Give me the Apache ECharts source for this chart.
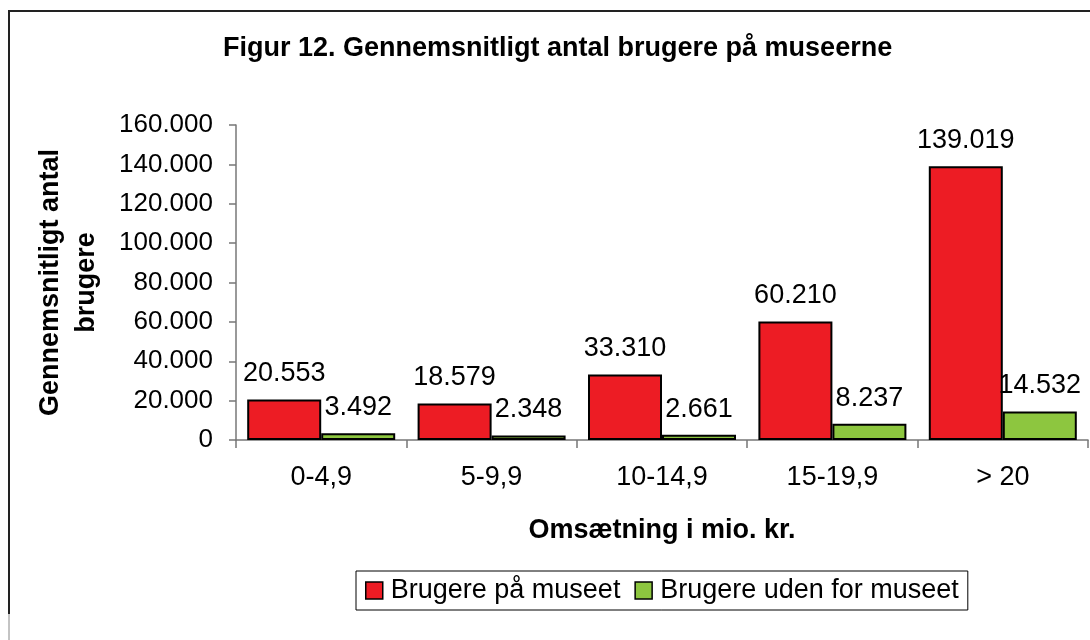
<!DOCTYPE html>
<html>
<head>
<meta charset="utf-8">
<script src="https://cdn.jsdelivr.net/npm/echarts@6/dist/echarts.min.js"></script>
<style>
  html, body { margin: 0; padding: 0; background: #fff; }
  #chart { width: 1090px; height: 640px; }
</style>
</head>
<body>
<div id="chart"></div>
<script>
// kategorier og værdier
const categories = ['0-4,9', '5-9,9', '10-14,9', '15-19,9', '> 20']
const brugerePaa = [20553, 18579, 33310, 60210, 139019]
const brugereUden = [3492, 2348, 2661, 8237, 14532]
const seriesNames = ['Brugere på museet', 'Brugere uden for museet']

const FONT = '"Liberation Sans", Arial, sans-serif'

// tusindtals-punktum som i dansk format
const fmt = (v) => String(v).replace(/\B(?=(\d{3})+(?!\d))/g, '.')

const myChart = echarts.init(document.getElementById('chart'))

const barLabel = {
  show: true,
  position: 'top',
  distance: 12,
  color: '#000',
  fontSize: 27,
  fontFamily: FONT,
  formatter: (p) => fmt(p.value),
}

const option = {
  backgroundColor: '#fff',
  animation: false,
  textStyle: { fontFamily: FONT },
  title: {
    text: 'Figur 12. Gennemsnitligt antal brugere på museerne',
    left: 223,
    top: 35,
    padding: 0,
    textStyle: { fontSize: 27, fontWeight: 'bold', color: '#000', fontFamily: FONT },
  },
  graphic: [
    {
      type: 'polyline',
      shape: { points: [[9, 614], [9, 11], [1090, 11]] },
      style: { stroke: '#222', lineWidth: 2, fill: null },
    },
    {
      type: 'line',
      shape: { x1: 9, y1: 614, x2: 9, y2: 640 },
      style: { stroke: '#888', lineWidth: 1 },
    },
  ],
  legend: {
    data: seriesNames,
    left: 356,
    top: 571,
    padding: [6, 9],
    itemGap: 14,
    itemWidth: 17,
    itemHeight: 17,
    icon: 'rect',
    borderColor: '#000',
    borderWidth: 1,
    itemStyle: { borderColor: '#000', borderWidth: 1.5 },
    textStyle: { fontSize: 27, color: '#000', fontFamily: FONT, padding: [0, 0, 0, 3] },
  },
  grid: {
    left: 236,
    right: 2,
    top: 125,
    bottom: 200,
    containLabel: false,
  },
  xAxis: {
    type: 'category',
    data: categories,
    name: 'Omsætning i mio. kr.',
    nameLocation: 'middle',
    nameGap: 77,
    nameTextStyle: { fontSize: 27, fontWeight: 'bold', color: '#000', fontFamily: FONT },
    axisLine: { lineStyle: { color: '#777', width: 1.5 } },
    axisTick: { show: true, length: 8, alignWithLabel: false, lineStyle: { color: '#777', width: 1.5 } },
    axisLabel: { margin: 24, fontSize: 27, color: '#000', fontFamily: FONT },
  },
  yAxis: {
    type: 'value',
    min: 0,
    max: 160000,
    interval: 20000,
    name: 'Gennemsnitligt antal\nbrugere',
    nameLocation: 'middle',
    nameRotate: 90,
    nameGap: 131,
    nameTextStyle: {
      fontSize: 27, fontWeight: 'bold', color: '#000', fontFamily: FONT,
      align: 'center', lineHeight: 36,
    },
    splitLine: { show: false },
    axisLine: { show: true, lineStyle: { color: '#777', width: 1.5 } },
    axisTick: { show: true, length: 7, lineStyle: { color: '#777', width: 1.5 } },
    axisLabel: { margin: 23, fontSize: 26, color: '#000', fontFamily: FONT, formatter: fmt },
  },
  series: [
    {
      name: seriesNames[0],
      type: 'bar',
      data: brugerePaa,
      barWidth: 74,
      barGap: '0%',
      itemStyle: { color: '#ED1C24', borderColor: '#000', borderWidth: 2 },
      label: barLabel,
    },
    {
      name: seriesNames[1],
      type: 'bar',
      data: brugereUden,
      barWidth: 74,
      barGap: '0%',
      itemStyle: { color: '#8DC63F', borderColor: '#000', borderWidth: 2 },
      label: barLabel,
    },
  ],
}

myChart.setOption(option)
</script>
</body>
</html>
